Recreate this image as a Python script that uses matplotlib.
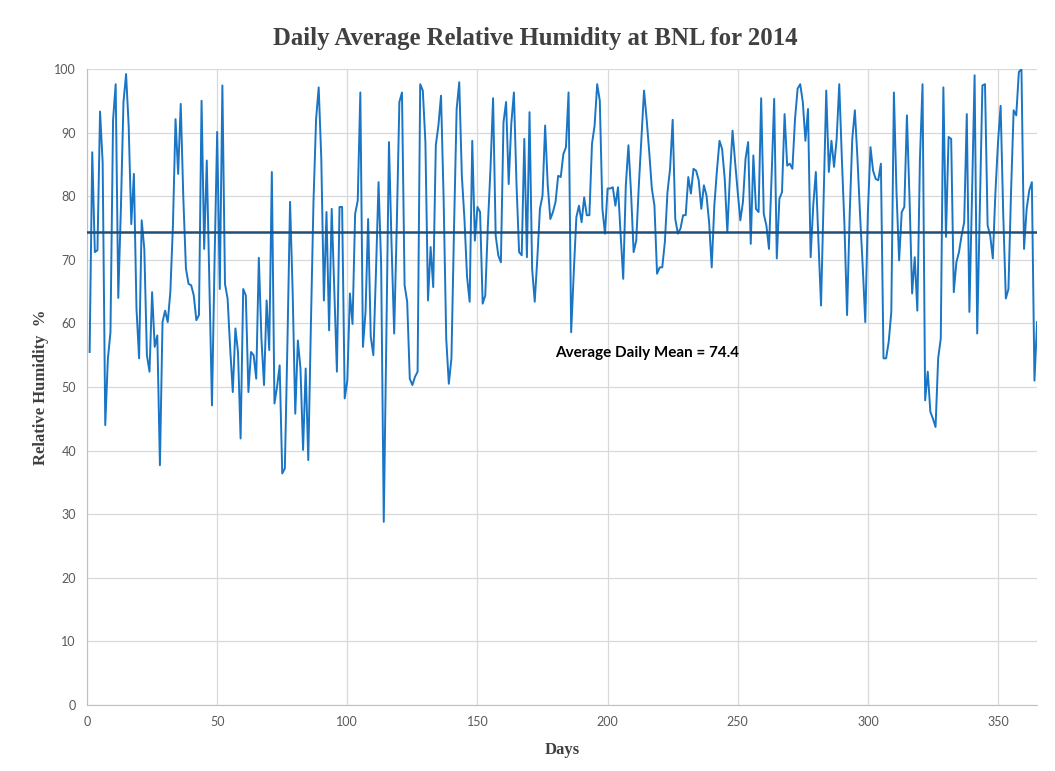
import matplotlib.pyplot as plt
import numpy as np

# daily average relative humidity (%), day 1 .. 365
rh_days_001_046 = [55.5, 86.9, 71.2, 71.5, 93.3, 85.3, 44, 54.4, 58.6, 92, 97.6, 64, 78, 94.8, 99.2, 91,
                   75.6, 83.5, 62.3, 54.5, 76.2, 71.7, 55, 52.4, 64.9, 56.3, 58.1, 37.7, 60.2, 62, 60.2,
                   64.9, 75.4, 92.1, 83.5, 94.5, 79.6, 68.6, 66.2, 66, 64.4, 60.5, 61.3, 95, 71.7, 85.6]
rh_days_047_092 = [66, 47.1, 70, 90.1, 65.4, 97.4, 66.2, 63.9, 56, 49.2, 59.2, 55.5, 41.9, 65.4, 64.4, 49.2,
                   55.5, 55, 51.3, 70.3, 57.6, 50.3, 63.6, 55.8, 83.8, 47.4, 50, 53.4, 36.4, 37.2, 57.1,
                   79.1, 64.9, 45.8, 57.3, 52.9, 40.1, 52.9, 38.5, 59.7, 79.1, 92.1, 97.1, 85.9, 63.6, 77.5]
rh_days_093_138 = [58.9, 78, 65, 52.4, 78.3, 78.3, 48.2, 51, 64.7, 59.9, 77.2, 79.3, 96.3, 56.3, 61.8, 76.4,
                   57.9, 55, 68, 82.2, 69.1, 28.8, 58, 88.5, 72.3, 58.4, 75.4, 94.8, 96.3, 66, 63.4,
                   51.3, 50.3, 51.6, 52.4, 97.6, 96.6, 88.5, 63.6, 72, 65.7, 88, 91.1, 95.8, 79.6, 57.6]
rh_days_139_184 = [50.5, 54.5, 75, 93.7, 97.9, 83.2, 76.4, 67.3, 63.4, 88.7, 73, 78.3, 77.5, 63.1, 64.4, 75.4,
                   84.3, 95.4, 73.8, 70.7, 69.6, 91.6, 94.8, 81.9, 91.4, 96.3, 81.9, 71.2, 70.7, 89, 70.4,
                   93.2, 68.6, 63.4, 70.2, 78, 80.1, 91.1, 81.7, 76.4, 77.5, 79.1, 83.2, 83, 86.6, 87.7]
rh_days_185_230 = [96.3, 58.6, 68, 76.7, 78.5, 75.9, 79.8, 77, 77, 88.2, 91.1, 97.6, 95, 78, 74.1, 81.2,
                   81.2, 81.4, 78.5, 81.4, 74, 67, 81.7, 88, 80.6, 71.2, 73, 81.7, 89, 96.6, 92.1,
                   86.9, 81.2, 78.5, 67.8, 68.8, 68.8, 72.8, 80.6, 84.3, 92, 76.4, 74.1, 74.9, 77, 77]
rh_days_231_276 = [83, 80.4, 84.3, 84, 82.5, 78, 81.7, 80.1, 75.9, 68.8, 78.5, 84, 88.7, 87.4, 82.7, 74.3,
                   83.2, 90.3, 85.3, 80.6, 76.2, 79.1, 85.9, 88.5, 72.5, 86.4, 78, 77.5, 95.4, 77.2, 75.4,
                   71.7, 83, 95.3, 70.2, 79.6, 80.6, 92.9, 84.8, 85.1, 84.3, 92.1, 96.9, 97.6, 94.8, 88.7]
rh_days_277_322 = [93.7, 70.4, 78.5, 83.8, 73, 62.8, 80, 96.6, 83.8, 88.7, 84.6, 89, 97.6, 85.9, 75.4, 61.3,
                   77, 89, 93.5, 85.9, 77, 69.1, 60.2, 77.5, 87.7, 84, 82.7, 82.5, 85.1, 54.5, 54.5,
                   57.1, 61.8, 96.3, 80.6, 69.9, 77.5, 78.3, 92.7, 79.6, 64.7, 70.4, 62, 85.9, 97.6, 47.9]
rh_days_323_365 = [52.4, 46.1, 45, 43.7, 54.5, 57.6, 97.1, 73.6, 89.3, 89, 64.9, 69.6, 71.2, 73.8, 75.9,
                   92.9, 61.8, 80, 99, 58.4, 78, 97.4, 97.6, 75.4, 73.8, 70.2, 80.6, 88.5, 94.2, 77.2,
                   63.9, 65.4, 80.6, 93.5, 92.7, 99.5, 100, 71.7, 78, 80.9, 82.2, 51, 60.2]

mean_rh = 74.4

rh = (rh_days_001_046 + rh_days_047_092 + rh_days_093_138 + rh_days_139_184 +
      rh_days_185_230 + rh_days_231_276 + rh_days_277_322 + rh_days_323_365)
days = np.arange(1, len(rh) + 1)

fig = plt.figure(figsize=(10.55, 7.71), dpi=100)
ax = fig.add_axes([0.0825, 0.0856, 0.9005, 0.825])

ax.plot(days, rh, color='#1A75C4', linewidth=1.4, zorder=3)
ax.axhline(mean_rh, color='#1F4E79', linewidth=1.8, zorder=4)
ax.text(180, 55.3, f'Average Daily Mean = {mean_rh}', fontsize=11, fontweight='bold',
        family='Lato', va='center', ha='left', color='black')

ax.set_xlim(0, 365)
ax.set_ylim(0, 100)
ax.set_xticks(np.arange(0, 351, 50))
ax.set_yticks(np.arange(0, 101, 10))
ax.grid(True, color='#D9D9D9', linewidth=0.9)
ax.set_axisbelow(True)
ax.tick_params(length=0, labelsize=9, labelcolor='#595959', pad=8)
for lab in ax.get_xticklabels() + ax.get_yticklabels():
    lab.set_family('Lato')
for side in ['top', 'right']:
    ax.spines[side].set_visible(False)
for side in ['left', 'bottom']:
    ax.spines[side].set_color('#BFBFBF')

fig.text(535 / 1055, 1 - 38 / 771, 'Daily Average Relative Humidity at BNL for 2014',
         family='Liberation Serif', fontsize=17.8, fontweight='bold', color='#404040',
         ha='center', va='center')
ax.set_xlabel('Days', family='Liberation Serif', fontsize=12, fontweight='bold', color='#404040',
              labelpad=10)
ax.set_ylabel('Relative Humidity  %', family='Liberation Serif', fontsize=12, fontweight='bold',
              color='#404040')

fig.savefig('out.png', dpi=100)
